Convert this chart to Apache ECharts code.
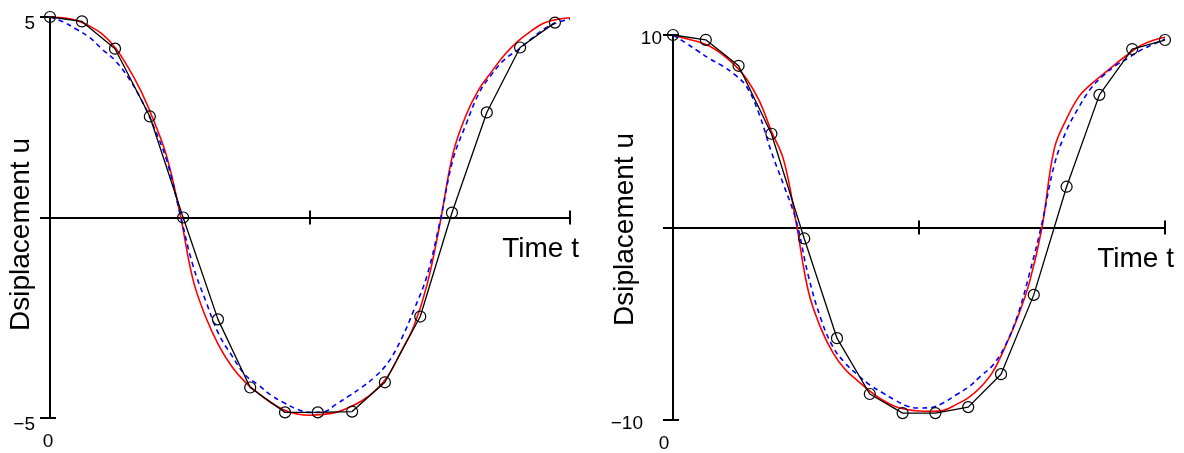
<!DOCTYPE html>
<html>
<head>
<meta charset="utf-8">
<script src="https://cdn.jsdelivr.net/npm/echarts@6/dist/echarts.min.js"></script>
<style>
html,body{margin:0;padding:0;background:#fff;}
#chart{width:1184px;height:453px;}
</style>
</head>
<body>
<div id="chart"></div>
<script>
// ---------- data ----------
// sample times for the smooth curves (red solid, blue dashed)
const curveT = [0,0.25,0.5,0.75,1,1.25,1.5,1.75,2,2.25,2.5,2.75,3,3.25,3.5,3.75,4,4.25,4.5,4.75,5,5.25,5.5,5.75,6,6.25,6.5,6.75,7,7.25,7.5,7.75,8,8.25,8.5,8.75,9,9.25,9.5,9.75,10];

// Left panel (amplitude 5)
const leftRedU  = [5,4.98,4.92,4.78,4.58,4.24,3.75,3.15,2.4,1.5,0.1,-1.55,-2.5,-3.2,-3.72,-4.1,-4.38,-4.62,-4.8,-4.9,-4.93,-4.91,-4.86,-4.74,-4.57,-4.32,-3.95,-3.35,-2.7,-1.68,-0.15,1.6,2.55,3.2,3.65,4.07,4.4,4.65,4.85,4.94,4.98];
const leftBlueU = [5,4.88,4.7,4.5,4.2,3.92,3.5,2.95,2.25,1.4,0.1,-1.2,-2.1,-2.92,-3.45,-3.92,-4.17,-4.43,-4.62,-4.78,-4.86,-4.85,-4.66,-4.45,-4.23,-3.97,-3.62,-3.05,-2.3,-1.45,-0.1,1.45,2.32,3.1,3.58,3.95,4.18,4.45,4.7,4.86,4.95];
const leftBlackT = [0,0.615,1.25,1.92,2.56,3.23,3.85,4.52,5.15,5.81,6.44,7.12,7.73,8.4,9.04,9.71];
const leftBlackU = [5,4.89,4.21,2.52,0,-2.54,-4.24,-4.86,-4.86,-4.84,-4.11,-2.47,0.12,2.62,4.24,4.86];

// Right panel (amplitude 10)
const rightRedU  = [10,9.82,9.66,9.42,9.0,8.45,7.7,6.6,5.0,3.5,0.3,-3.3,-5.2,-6.5,-7.38,-7.95,-8.5,-8.95,-9.28,-9.45,-9.53,-9.55,-9.5,-9.2,-8.85,-8.3,-7.5,-6.2,-4.7,-2.8,0,4.1,5.65,6.8,7.45,7.98,8.5,9.0,9.45,9.72,9.88];
const rightBlueU = [10,9.6,9.18,8.76,8.4,7.95,7.3,5.9,3.92,2.2,0.38,-2.5,-4.7,-6.2,-7.05,-7.65,-8.18,-8.57,-8.95,-9.27,-9.38,-9.35,-9.1,-8.7,-8.3,-7.73,-7.15,-6.15,-4.6,-2.35,0.23,3.25,5.05,6.25,7.25,7.9,8.42,8.8,9.2,9.5,9.8];
const rightBlackT = [0,0.667,1.333,2,2.667,3.333,4,4.667,5.333,6,6.667,7.333,8,8.667,9.333,10];
const rightBlackU = [10,9.75,8.4,4.87,-0.57,-5.75,-8.65,-9.64,-9.64,-9.33,-7.62,-3.5,2.12,6.89,9.27,9.74];

// axis settings
const xRange = [0, 10];
const xStep = 5;
const leftYRange = [-5, 5];
const rightYRange = [-10, 10];
const xTitle = 'Time t';
const yTitle = 'Dsiplacement u';
const originLabel = '0';

// ---------- chart ----------
const FONT = 'Liberation Sans';
const pairs = (t, u) => t.map((v, i) => [v, u[i]]);
const axisColor = '#000';

function xAxes(g, originPad) {
  return [
    { // main axis on zero, ticks downward, name
      gridIndex: g, type: 'value', min: xRange[0], max: xRange[1], interval: xStep,
      position: 'bottom',
      axisLine: { show: true, onZero: true, lineStyle: { color: axisColor, width: 2 } },
      axisTick: { show: true, inside: false, length: 7, lineStyle: { color: axisColor, width: 2 } },
      axisLabel: { show: false }, splitLine: { show: false },
      name: xTitle, nameLocation: 'end', nameGap: 9, nameMoveOverlap: false,
      nameTextStyle: { fontFamily: FONT, fontSize: 28, color: '#000', align: 'right', verticalAlign: 'top', padding: [18, 0, 0, 0] }
    },
    { // ticks upward
      gridIndex: g, type: 'value', min: xRange[0], max: xRange[1], interval: xStep,
      position: 'top',
      axisLine: { show: true, onZero: true, lineStyle: { color: axisColor, width: 2 } },
      axisTick: { show: true, inside: false, length: 7, lineStyle: { color: axisColor, width: 2 } },
      axisLabel: { show: false }, splitLine: { show: false }
    },
    { // origin label at bottom
      gridIndex: g, type: 'value', min: xRange[0], max: xRange[1], interval: xStep,
      position: 'bottom',
      axisLine: { show: false, onZero: false }, axisTick: { show: false }, splitLine: { show: false },
      axisLabel: {
        show: true, margin: 14, fontFamily: FONT, fontSize: 19, color: '#000',
        formatter: v => (v === 0 ? '{o|' + originLabel + '}' : ''),
        rich: { o: { fontFamily: FONT, fontSize: 19, color: '#000', padding: [0, originPad, 0, 0] } }
      }
    }
  ];
}

function yAxes(g, range, margin, negPad, topPad, nameGap, namePad) {
  return [
    {
      gridIndex: g, type: 'value', min: range[0], max: range[1], interval: range[1],
      position: 'left',
      axisLine: { show: true, onZero: false, lineStyle: { color: axisColor, width: 2 } },
      axisTick: { show: true, inside: false, length: 10, lineStyle: { color: axisColor, width: 2 } },
      splitLine: { show: false },
      axisLabel: {
        show: true, margin: margin, fontFamily: FONT, fontSize: 19, color: '#000',
        formatter: v => (v === 0 ? '' : (v < 0 ? '{n|\u2212' + (-v) + '}' : '{p|' + v + '}')),
        rich: {
          n: { fontFamily: FONT, fontSize: 19, color: '#000', padding: [topPad, negPad, 0, 0] },
          p: { fontFamily: FONT, fontSize: 19, color: '#000', padding: [topPad, 0, 0, 0] }
        }
      },
      name: yTitle, nameLocation: 'middle', nameGap: nameGap, nameMoveOverlap: false,
      nameTextStyle: { fontFamily: FONT, fontSize: 28, color: '#000', padding: [0, namePad, 0, 0] }
    },
    {
      gridIndex: g, type: 'value', min: range[0], max: range[1], interval: range[1],
      position: 'right',
      axisLine: { show: true, onZero: true, lineStyle: { color: axisColor, width: 2 } },
      axisTick: { show: true, inside: false, length: 6, lineStyle: { color: axisColor, width: 2 } },
      axisLabel: { show: false }, splitLine: { show: false }
    }
  ];
}

function panelSeries(xi, yi, red, blue, black) {
  return [
    { type: 'line', xAxisIndex: xi, yAxisIndex: yi, data: red, smooth: 0.4, showSymbol: false,
      lineStyle: { color: '#ff0000', width: 1.6 }, z: 3 },
    { type: 'line', xAxisIndex: xi, yAxisIndex: yi, data: blue, smooth: 0.4, showSymbol: false,
      lineStyle: { color: '#0000ff', width: 1.6, type: [5, 4] }, z: 4 },
    { type: 'line', xAxisIndex: xi, yAxisIndex: yi, data: black, smooth: false,
      symbol: 'circle', symbolSize: 11, showSymbol: true, clip: false,
      itemStyle: { color: 'rgba(0,0,0,0)', borderColor: '#000', borderWidth: 1.2 },
      lineStyle: { color: '#000', width: 1.3 }, z: 5 }
  ];
}

const chart = echarts.init(document.getElementById('chart'), null, { renderer: 'canvas' });
chart.setOption({
  animation: false,
  backgroundColor: '#fff',
  textStyle: { fontFamily: FONT },
  grid: [
    { left: 50, top: 17, width: 520, height: 401, containLabel: false, outerBoundsMode: 'none' },
    { left: 673, top: 35, width: 492, height: 385, containLabel: false, outerBoundsMode: 'none' }
  ],
  xAxis: [...xAxes(0, 4), ...xAxes(1, 18)],
  yAxis: [...yAxes(0, leftYRange, 15, 0, 13, 15, 34), ...yAxes(1, rightYRange, 11, 19, 8, 34, 4)],
  series: [
    ...panelSeries(0, 0, pairs(curveT, leftRedU), pairs(curveT, leftBlueU), pairs(leftBlackT, leftBlackU)),
    ...panelSeries(3, 2, pairs(curveT, rightRedU), pairs(curveT, rightBlueU), pairs(rightBlackT, rightBlackU))
  ]
});
</script>
</body>
</html>
